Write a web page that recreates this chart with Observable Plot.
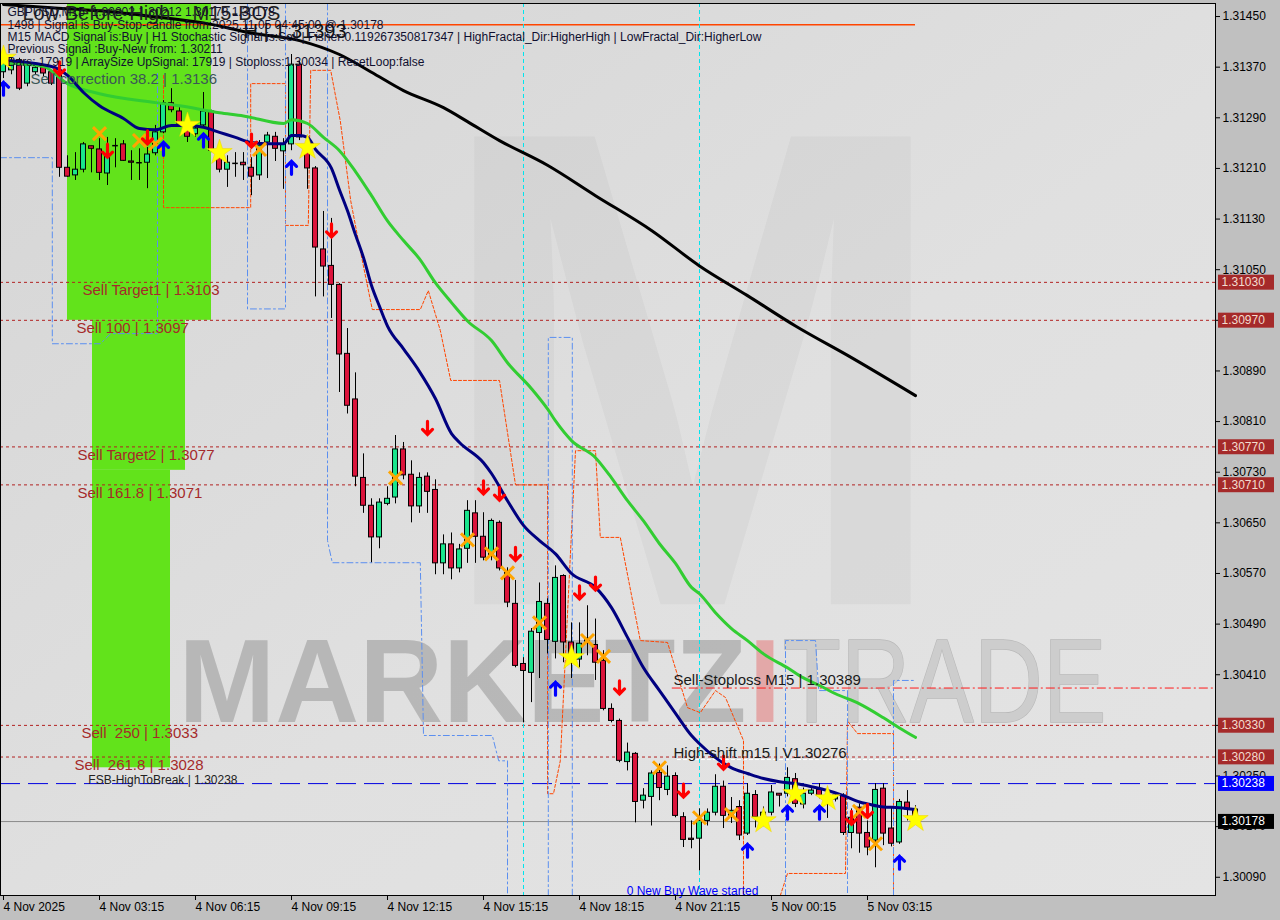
<!DOCTYPE html>
<html>
<head>
<meta charset="utf-8">
<script src="https://cdn.jsdelivr.net/npm/d3@7"></script>
<script src="https://cdn.jsdelivr.net/npm/@observablehq/plot@0.6"></script>
<style>
  html, body { margin: 0; padding: 0; background: #c0c0c0; }
  #chart { width: 1280px; height: 920px; overflow: hidden; }
</style>
</head>
<body>
<div id="chart"></div>
<script>
// ===== DATA (GBPUSD M15, bar 0 = 4 Nov 2025 00:15) =====
const opens = [1.31362,1.31365,1.31381,1.31344,1.31362,1.31369,1.31362,1.31360,1.31211,1.31199,
1.31208,1.31245,1.31240,1.31202,1.31246,1.31248,1.31221,1.31219,1.31219,1.31234,
1.31267,1.31313,1.31300,1.31273,1.31264,1.31278,1.31300,1.31230,1.31208,1.31218,
1.31219,1.31211,1.31199,1.31251,1.31260,1.31237,1.31248,1.31374,1.31238,1.31210,
1.31082,1.31056,1.31026,1.30917,1.30845,1.30721,1.30677,1.30627,1.30680,1.30690,
1.30766,1.30726,1.30676,1.30723,1.30702,1.30586,1.30616,1.30578,1.30609,1.30665,
1.30628,1.30598,1.30650,1.30571,1.30522,1.30427,1.30413,1.30476,1.30522,1.30462,
1.30566,1.30461,1.30434,1.30462,1.30457,1.30432,1.30356,1.30337,1.30272,1.30285,
1.30211,1.30217,1.30255,1.30228,1.30250,1.30185,1.30151,1.30151,1.30179,1.30192,
1.30233,1.30187,1.30201,1.30159,1.30220,1.30187,1.30192,1.30222,1.30222,1.30245,
1.30205,1.30222,1.30228,1.30211,1.30213,1.30219,1.30160,1.30200,1.30160,1.30148,
1.30230,1.30167,1.30145,1.30208,1.30197];
const highs = [1.31388,1.31384,1.31384,1.31377,1.31374,1.31374,1.31365,1.31365,1.31230,1.31235,
1.31251,1.31245,1.31257,1.31259,1.31257,1.31254,1.31238,1.31241,1.31243,1.31278,
1.31317,1.31336,1.31306,1.31281,1.31278,1.31330,1.31302,1.31243,1.31230,1.31235,
1.31235,1.31227,1.31254,1.31267,1.31267,1.31257,1.31390,1.31379,1.31259,1.31213,
1.31142,1.31131,1.31028,1.30957,1.30887,1.30759,1.30688,1.30688,1.30707,1.30788,
1.30777,1.30748,1.30729,1.30729,1.30718,1.30631,1.30634,1.30616,1.30685,1.30685,
1.30666,1.30656,1.30653,1.30579,1.30559,1.30437,1.30483,1.30555,1.30530,1.30582,
1.30568,1.30492,1.30492,1.30519,1.30498,1.30448,1.30364,1.30340,1.30302,1.30287,
1.30230,1.30258,1.30269,1.30266,1.30255,1.30192,1.30179,1.30198,1.30198,1.30252,
1.30242,1.30216,1.30211,1.30238,1.30227,1.30201,1.30235,1.30222,1.30263,1.30254,
1.30231,1.30230,1.30238,1.30221,1.30222,1.30222,1.30198,1.30206,1.30179,1.30238,
1.30238,1.30200,1.30213,1.30227,1.30203];
const lows = [1.31352,1.31358,1.31333,1.31339,1.31358,1.31355,1.31341,1.31196,1.31196,1.31191,
1.31203,1.31203,1.31191,1.31183,1.31211,1.31221,1.31191,1.31191,1.31178,1.31230,
1.31265,1.31298,1.31278,1.31251,1.31259,1.31275,1.31235,1.31203,1.31180,1.31196,
1.31191,1.31167,1.31191,1.31194,1.31221,1.31177,1.31238,1.31254,1.31177,1.31007,
1.31007,1.30973,1.30856,1.30822,1.30707,1.30665,1.30587,1.30609,1.30677,1.30680,
1.30718,1.30650,1.30665,1.30665,1.30568,1.30568,1.30560,1.30571,1.30586,1.30586,
1.30590,1.30590,1.30574,1.30516,1.30421,1.30334,1.30366,1.30404,1.30443,1.30435,
1.30429,1.30404,1.30421,1.30440,1.30401,1.30353,1.30334,1.30271,1.30258,1.30176,
1.30198,1.30171,1.30211,1.30219,1.30184,1.30137,1.30135,1.30100,1.30171,1.30187,
1.30167,1.30175,1.30148,1.30156,1.30168,1.30170,1.30187,1.30201,1.30217,1.30200,
1.30198,1.30219,1.30214,1.30183,1.30209,1.30156,1.30135,1.30128,1.30124,1.30105,
1.30140,1.30138,1.30142,1.30179,1.30175];
const closes = [1.31381,1.31374,1.31336,1.31373,1.31369,1.31360,1.31344,1.31211,1.31197,1.31208,
1.31248,1.31241,1.31203,1.31230,1.31246,1.31222,1.31219,1.31219,1.31232,1.31267,
1.31313,1.31302,1.31281,1.31260,1.31273,1.31300,1.31238,1.31208,1.31219,1.31218,
1.31215,1.31197,1.31246,1.31262,1.31241,1.31248,1.31374,1.31259,1.31210,1.31085,
1.31055,1.31026,1.30916,1.30835,1.30723,1.30677,1.30627,1.30682,1.30688,1.30766,
1.30725,1.30676,1.30721,1.30699,1.30586,1.30616,1.30578,1.30608,1.30669,1.30628,
1.30595,1.30653,1.30578,1.30524,1.30424,1.30416,1.30478,1.30525,1.30465,1.30563,
1.30461,1.30443,1.30459,1.30467,1.30429,1.30356,1.30337,1.30274,1.30287,1.30209,
1.30219,1.30254,1.30231,1.30249,1.30187,1.30149,1.30149,1.30179,1.30192,1.30233,
1.30187,1.30195,1.30156,1.30222,1.30185,1.30192,1.30224,1.30219,1.30247,1.30206,
1.30222,1.30227,1.30219,1.30216,1.30219,1.30160,1.30184,1.30159,1.30137,1.30228,
1.30159,1.30143,1.30209,1.30197,1.30178];

// moving averages (bar index, price)
const fastMaBars = [0,6,8,10,12,15,17,19,21,23,25,27,29,31,33,35,36,37,38,39,41,42,43,44,45,46,47,48,50,52,54,56,57,60,61,63,65,67,69,71,74,76,78,80,82,84,86,87,89,91,93,95,97,99,101,103,105,107,108,110,112,114];
const fastMaVals = [1.31381,1.31371,1.31357,1.31330,1.31309,1.31289,1.31273,1.31271,1.31278,1.31278,1.31275,1.31267,1.31259,1.31251,1.31249,1.31249,1.31262,1.31262,1.31259,1.31240,1.31210,1.31176,1.31143,1.31105,1.31069,1.31025,1.30992,1.30961,1.30925,1.30889,1.30846,1.30791,1.30777,1.30745,1.30728,1.30685,1.30646,1.30622,1.30601,1.30570,1.30548,1.30516,1.30469,1.30421,1.30385,1.30349,1.30314,1.30301,1.30279,1.30263,1.30254,1.30246,1.30241,1.30238,1.30233,1.30227,1.30219,1.30209,1.30206,1.30201,1.30200,1.30197];
const midMaBars = [0,5,8,12,19,22,27,30,35,36,38,40,42,44,46,48,50,52,54,56,58,61,63,66,68,69,71,74,76,78,80,82,84,86,87,89,91,93,95,98,100,102,104,107,110,112,114];
const midMaVals = [1.31377,1.31371,1.31344,1.31328,1.31314,1.31309,1.31298,1.31293,1.31281,1.31287,1.31281,1.31259,1.31238,1.31205,1.31167,1.31127,1.31096,1.31067,1.31029,1.30998,1.30969,1.30938,1.30903,1.30862,1.30830,1.30811,1.30780,1.30753,1.30721,1.30685,1.30653,1.30617,1.30586,1.30548,1.30538,1.30508,1.30483,1.30464,1.30443,1.30421,1.30405,1.30393,1.30380,1.30364,1.30342,1.30326,1.30311];
const slowMaBars = [0,6,12,18,25,31,37,42,46,50,55,58,62,68,74,81,87,93,99,106,114];
const slowMaVals = [1.31469,1.31464,1.31459,1.31451,1.31440,1.31424,1.31412,1.31390,1.31362,1.31333,1.31306,1.31284,1.31254,1.31215,1.31167,1.31112,1.31056,1.31009,1.30961,1.30911,1.30851];

// axes
const xTickBars = [0,12,24,36,48,60,72,84,96,108];
const xTickLabels = ["4 Nov 2025","4 Nov 03:15","4 Nov 06:15","4 Nov 09:15","4 Nov 12:15","4 Nov 15:15","4 Nov 18:15","4 Nov 21:15","5 Nov 00:15","5 Nov 03:15"];
const yTicks = [1.31450,1.31370,1.31290,1.31210,1.31130,1.31050,1.30970,1.30890,1.30810,1.30730,1.30650,1.30570,1.30490,1.30410,1.30330,1.30250,1.30170,1.30090];

// fibonacci / target levels
const levelPrices = [1.31030,1.30970,1.30770,1.30710,1.30330,1.30280];
const levelLabels = ["Sell Target1 | 1.3103","Sell 100 | 1.3097","Sell Target2 | 1.3077","Sell 161.8 | 1.3071","Sell  250 | 1.3033","Sell  261.8 | 1.3028"];
const levelLabelBars = [9.875,9.125,9.25,9.25,9.75,8.875];
const stoplossPrice = 1.30389, stoplossBar = 83.6;
const highShiftPrice = 1.30276;
const fsbPrice = 1.30238;
const lastPrice = 1.30178;
const topLinePrice = 1.31437;

// zones
const zoneStartBar = [8, 11.125, 11.125];
const zoneEndBar = [26, 22.75, 20.875];
const zoneTop = [1.31470, 1.30970, 1.30733];
const zoneBottom = [1.30970, 1.30733, 1.30263];

// signal markers
const sellArrowBars = [7,13,18,31,41,53,60,62,64,72,74,77,85,90,106,108];
const sellArrowPrices = [1.31368,1.31238,1.31259,1.31254,1.31112,1.30800,1.30706,1.30696,1.30601,1.30540,1.30554,1.30390,1.30227,1.30271,1.30184,1.30195];
const buyArrowBars = [0,20,25,36,69,93,98,102,112];
const buyArrowPrices = [1.31336,1.31241,1.31254,1.31211,1.30388,1.30132,1.30192,1.30192,1.30113];
const crossBars = [12,17,19,32,49,58,61,63,67,73,75,82,87,91,107,109];
const crossPrices = [1.31265,1.31254,1.31249,1.31240,1.30721,1.30623,1.30601,1.30571,1.30492,1.30464,1.30439,1.30263,1.30184,1.30189,1.30194,1.30143];
const starBars = [0,23,27,38,71,95,99,103,114];
const starPrices = [1.31384,1.31278,1.31235,1.31243,1.30437,1.30179,1.30222,1.30214,1.30181];

// envelope channels (bar, price) step paths
const orangeA = [[20,1.31357],[20,1.31148],[30.9,1.31148],[30.9,1.31344],[35.25,1.31344],[35.25,1.31120],[38.1,1.31120],[38.4,1.31365],[40.9,1.31365],[42.1,1.31285],[43.4,1.31159],[44.6,1.31080],[46.1,1.30987],[52.1,1.30987],[53.1,1.31017],[54.6,1.30954],[55.9,1.30875],[62,1.30875],[64,1.30710],[68,1.30710],[68,1.30222],[68.75,1.30222],[69.6,1.30274],[71.5,1.30764],[74,1.30764],[74.6,1.30627],[77.1,1.30627],[79.6,1.30464],[83,1.30461],[85.5,1.30358],[87.1,1.30350],[89,1.30385],[90.25,1.30374],[92.5,1.30306],[92.5,1.30061]];
const orangeB = [[97.1,1.30061],[98,1.30096],[105.25,1.30096],[105.5,1.30337],[106.75,1.30317],[111.25,1.30317],[111.25,1.30061]];
const blueA = [[-0.375,1.31227],[6.1,1.31227],[6.1,1.30933],[12.1,1.30933],[13.4,1.30949],[19.25,1.30949],[19.25,1.31360]];
const blueB = [[30.5,1.31470],[30.5,1.30988],[35.25,1.30988],[35.25,1.31470]];
const blueC = [[40.5,1.31470],[40.5,1.30622],[41.1,1.30587],[52.1,1.30587],[52.5,1.30314],[61.1,1.30314],[61.9,1.30274],[63,1.30274],[63,1.30061]];
const blueD = [[68.1,1.30061],[68.1,1.30943],[71.1,1.30943],[71.1,1.30061]];
const blueE = [[97.75,1.30061],[97.75,1.30464],[101.5,1.30464],[101.9,1.30385],[105.5,1.30385],[105.5,1.30061]];
const blueF = [[111.25,1.30061],[111.25,1.30401],[114,1.30401]];
const cyanBars = [65, 87];

// info texts
const infoLines = [
  "GBPUSD,M15  1.30202 1.30212 1.30178 1.30178",
  "1498 | Signal is Buy-Stop-candle from:2025.11.05 04:45:00 @ 1.30178",
  "M15 MACD Signal is:Buy | H1 Stochastic Signal is:Sell | Fisher:0.119267350817347 | HighFractal_Dir:HigherHigh | LowFractal_Dir:HigherLow",
  "Previous Signal :Buy-New from: 1.30211",
  "Bars: 17919 | ArraySize UpSignal: 17919 | Stoploss:1.30034 | ResetLoop:false"
];

// ===== BUILD TABLES =====
const candles = opens.map((o, i) => ({i, o, h: highs[i], l: lows[i], c: closes[i]}));
const bodies = candles.filter(d => Math.abs(d.o - d.c) > 0.000004);
const dojis = candles.filter(d => Math.abs(d.o - d.c) <= 0.000004);
const toRows = (bars, vals) => bars.map((b, k) => ({b, p: vals[k]}));
const zones = zoneStartBar.map((b, k) => ({b1: b, b2: zoneEndBar[k], p1: zoneTop[k], p2: zoneBottom[k]}));
const segRows = (segs) => segs.flatMap((s, k) => s.map(([b, p]) => ({b, p, z: k})));
const levels = levelPrices.map((p, k) => ({p, t: levelLabels[k], b: levelLabelBars[k]}));

const F = "'Liberation Sans', Arial, sans-serif";
const down = "#dc143c", up = "#19e68c";

// bold MT4-like arrow: stem plus wide head
const boldArrow = {
  draw(context, l) {
    const w = 5;
    context.moveTo(0, 0);
    context.lineTo(0, -l);
    context.moveTo(-w, -l + w);
    context.lineTo(0, -l);
    context.lineTo(w, -l + w);
  }
};

const chart = Plot.plot({
  width: 1280, height: 920,
  marginLeft: 0, marginRight: 65, marginTop: 3, marginBottom: 25,
  x: {domain: [-0.375, 151.5], axis: null},
  y: {domain: [1.300612, 1.314706], axis: null},
  style: {background: "transparent", fontFamily: F, overflow: "visible"},
  marks: [
    Plot.frame({fill: "url(#bgGrad)"}),
    // watermark
    Plot.text(["M"], {frameAnchor: "top-left", dx: 432, dy: 118, fontSize: 680, fontWeight: "bold", fill: "#000", fillOpacity: 0.032, textAnchor: "start", lineAnchor: "top", className: "wm-m"}),
    Plot.text(["MARKETZ"], {frameAnchor: "top-left", dx: 178, dy: 635, fontSize: 118, fontWeight: "bold", fill: "#a9a9a9", fillOpacity: 0.75, textAnchor: "start", lineAnchor: "top", className: "wm-mk"}),
    Plot.text(["I"], {frameAnchor: "top-left", dx: 748, dy: 635, fontSize: 118, fontWeight: "bold", fill: "#e39a9a", fillOpacity: 0.8, textAnchor: "start", lineAnchor: "top", className: "wm-i"}),
    Plot.text(["TRADE"], {frameAnchor: "top-left", dx: 782, dy: 635, fontSize: 118, fill: "#cdcdcd", stroke: "#b9b9b9", strokeWidth: 1.5, textAnchor: "start", lineAnchor: "top", className: "wm-tr"}),
    // zones
    Plot.rect(zones, {x1: "b1", x2: "b2", y1: "p1", y2: "p2", fill: "#62e31b"}),
    // level lines
    Plot.ruleY(levelPrices, {stroke: "#b22222", strokeDasharray: "3,3", strokeWidth: 1}),
    Plot.ruleY([stoplossPrice], {x1: stoplossBar, x2: 151.5, stroke: "#ff1a1a", strokeDasharray: "9,3,2,3", strokeWidth: 1}),
    Plot.ruleY([highShiftPrice], {x1: 84.25, x2: 114.6, stroke: "#ffffff", strokeDasharray: "4,2", strokeWidth: 1}),
    Plot.ruleY([fsbPrice], {stroke: "#0000e0", strokeDasharray: "20,8", strokeWidth: 1}),
    Plot.ruleY([lastPrice], {stroke: "#8a8a8a", strokeWidth: 1}),
    Plot.ruleY([topLinePrice], {x1: -0.375, x2: 114, stroke: "#ff4500", strokeWidth: 1.5}),
    Plot.ruleX(cyanBars, {stroke: "#00e5ee", strokeDasharray: "4,3", strokeWidth: 1}),
    // channels
    Plot.line(segRows([orangeA, orangeB]), {x: "b", y: "p", z: "z", stroke: "#ff4500", strokeWidth: 1, strokeDasharray: "3,2"}),
    Plot.line(segRows([blueA, blueB, blueC, blueD, blueE, blueF]), {x: "b", y: "p", z: "z", stroke: "#5b8ff0", strokeWidth: 1, strokeDasharray: "6,3,2,3"}),
    // candles
    Plot.ruleX(candles, {x: "i", y1: "l", y2: "h", stroke: "#000", strokeWidth: 1}),
    Plot.rect(bodies, {x1: d => d.i - 0.31, x2: d => d.i + 0.31, y1: "o", y2: "c", fill: d => d.c >= d.o ? up : down, stroke: "#000", strokeWidth: 1}),
    Plot.ruleY(dojis, {y: "c", x1: d => d.i - 0.35, x2: d => d.i + 0.35, stroke: "#000", strokeWidth: 1.5}),
    // moving averages
    Plot.line(toRows(slowMaBars, slowMaVals), {x: "b", y: "p", stroke: "#000", strokeWidth: 3, curve: "monotone-x"}),
    Plot.line(toRows(midMaBars, midMaVals), {x: "b", y: "p", stroke: "#32cd32", strokeWidth: 3, curve: "monotone-x"}),
    Plot.line(toRows(fastMaBars, fastMaVals), {x: "b", y: "p", stroke: "#000080", strokeWidth: 3, curve: "monotone-x"}),
    // signals
    Plot.dot(toRows(crossBars, crossPrices), {x: "b", y: "p", symbol: "times", r: 6, stroke: "#ffa500", strokeWidth: 3}),
    Plot.dot(toRows(starBars, starPrices), {x: "b", y: "p", symbol: "star", r: 8, fill: "#ffff00", stroke: "#f0d000", strokeWidth: 0.5}),
    Plot.vector(toRows(sellArrowBars, sellArrowPrices), {x: "b", y: "p", rotate: 180, length: 13, anchor: "middle", shape: boldArrow, stroke: "#ff0000", strokeWidth: 3.2, strokeLinejoin: "miter"}),
    Plot.vector(toRows(buyArrowBars, buyArrowPrices), {x: "b", y: "p", rotate: 0, length: 13, anchor: "middle", shape: boldArrow, stroke: "#0000ff", strokeWidth: 3.2, strokeLinejoin: "miter"}),
    // labels
    Plot.text(levels, {x: "b", y: "p", text: "t", textAnchor: "start", lineAnchor: "top", dy: 2, fontSize: 15, fill: "#a52a2a"}),
    Plot.text(["Sell correction 38.2 | 1.3136"], {x: 3.375, y: 1.3136, textAnchor: "start", lineAnchor: "top", fontSize: 15, fill: "#3b5757"}),
    Plot.text(["Sell-Stoploss M15 | 1.30389"], {x: 83.75, y: stoplossPrice, textAnchor: "start", lineAnchor: "bottom", dy: -3, fontSize: 15, fill: "#1a1a1a"}),
    Plot.text(["High-shift m15 | V1.30276"], {x: 83.75, y: highShiftPrice, textAnchor: "start", lineAnchor: "bottom", dy: -2, fontSize: 15, fill: "#1a1a1a"}),
    Plot.text(["FSB-HighToBreak | 1.30238"], {x: 10.6, y: fsbPrice, textAnchor: "start", lineAnchor: "bottom", dy: 0, fontSize: 12, fill: "#222"}),
    Plot.text(["0 New Buy Wave started"], {x: 77.9, y: 1.300612, textAnchor: "start", lineAnchor: "bottom", dy: -1, fontSize: 12, fill: "#0000ff"}),
    // top-left info
    Plot.text(["Low Before High    M15-BOS"], {frameAnchor: "top-left", dx: 22, dy: 10, fontSize: 20, fill: "#222", textAnchor: "start", lineAnchor: "middle"}),
    Plot.text(["H | 1.31393"], {frameAnchor: "top-left", dx: 243, dy: 28, fontSize: 20, fill: "#111", textAnchor: "start", lineAnchor: "middle"}),
    ...infoLines.map((t, k) => Plot.text([t], {frameAnchor: "top-left", dx: 7, dy: 9 + k * 12.3, fontSize: 12, fill: "#101030", textAnchor: "start", lineAnchor: "middle"})),
    Plot.frame({stroke: "#000", strokeWidth: 1}),
    // axes
    Plot.axisY(yTicks, {anchor: "right", tickFormat: d => d.toFixed(5), tickSize: 4, tickPadding: 3, fontSize: 12, fill: "#000", stroke: "#000", label: null}),
    Plot.axisX(xTickBars, {anchor: "bottom", tickFormat: d => xTickLabels[xTickBars.indexOf(d)], tickSize: 5, tickPadding: 2, textAnchor: "start", fontSize: 12, fill: "#000", stroke: "#000", label: null}),
    // right price tags
    Plot.text(levelPrices, {y: d => d, text: d => d.toFixed(5), frameAnchor: "right", dx: 6, textAnchor: "start", fontSize: 12, fill: "#f3dccf", className: "ptag-red"}),
    Plot.text([fsbPrice], {y: d => d, text: d => d.toFixed(5), frameAnchor: "right", dx: 6, textAnchor: "start", fontSize: 12, fill: "#ffffff", className: "ptag-blue"}),
    Plot.text([lastPrice], {y: d => d, text: d => d.toFixed(5), frameAnchor: "right", dx: 6, textAnchor: "start", fontSize: 12, fill: "#ffffff", className: "ptag-black"})
  ]
});

document.getElementById("chart").appendChild(chart);

// gradient for plot background
const ns = "http://www.w3.org/2000/svg";
const defs = document.createElementNS(ns, "defs");
defs.innerHTML = '<linearGradient id="bgGrad" x1="0" y1="0" x2="1" y2="1"><stop offset="0" stop-color="#d5d5d5"/><stop offset="0.55" stop-color="#e0e0e0"/><stop offset="1" stop-color="#e4e4e4"/></linearGradient>';
chart.insertBefore(defs, chart.firstChild);

// watermark fitting
const fit = (cls, len) => chart.querySelectorAll("g." + cls + " text").forEach(t => { t.setAttribute("textLength", len); t.setAttribute("lengthAdjust", "spacingAndGlyphs"); });
fit("wm-m", 520); fit("wm-mk", 568); fit("wm-tr", 324);

// price tag boxes
const sb = chart.getBoundingClientRect();
[["ptag-red", "#a52a2a"], ["ptag-blue", "#0000ff"], ["ptag-black", "#000000"]].forEach(([cls, col]) => {
  const g = chart.querySelector("g." + cls);
  if (!g) return;
  g.querySelectorAll("text").forEach(t => {
    const r = t.getBoundingClientRect();
    const rect = document.createElementNS(ns, "rect");
    rect.setAttribute("x", 1218);
    rect.setAttribute("width", 56);
    rect.setAttribute("y", r.top - sb.top - 0.5);
    rect.setAttribute("height", 15);
    rect.setAttribute("fill", col);
    chart.insertBefore(rect, g);
  });
});
</script>
</body>
</html>
